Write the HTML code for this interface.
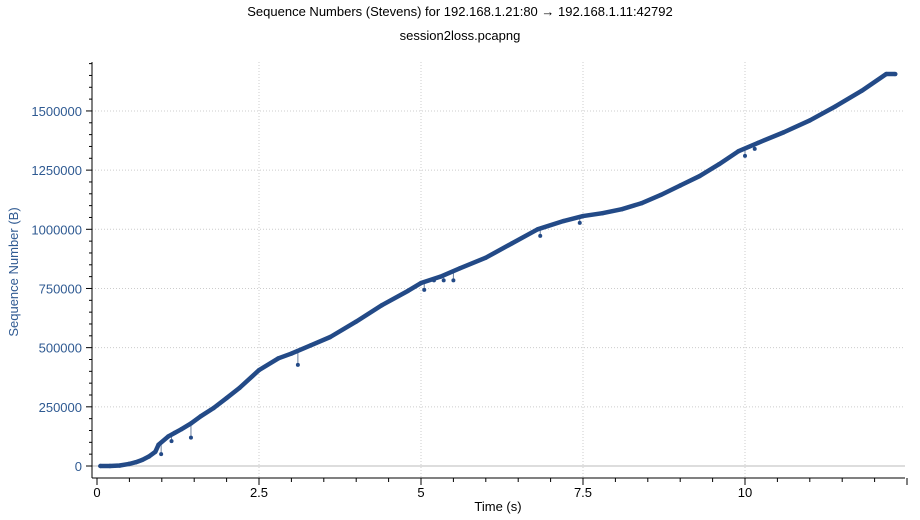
<!DOCTYPE html>
<html><head><meta charset="utf-8"><style>
body{margin:0;background:#fff;font-family:"Liberation Sans",sans-serif}
svg{display:block}
</style></head><body>
<svg id="c" width="920" height="520">
<text x="460" y="16" text-anchor="middle" font-size="13">Sequence Numbers (Stevens) for 192.168.1.21:80 → 192.168.1.11:42792</text>
<text x="460" y="40" text-anchor="middle" font-size="13">session2loss.pcapng</text>
<text transform="translate(18,272) rotate(-90)" text-anchor="middle" font-size="13" fill="#2f5a92">Sequence Number (B)</text>
<text x="498" y="511" text-anchor="middle" font-size="13">Time (s)</text>
<g id="g"></g>
</svg>
<script>
const times=[0.05,0.2,0.35,0.5,0.6,0.7,0.8,0.9,0.95,1.1,1.2,1.3,1.45,1.6,1.8,2.0,2.2,2.5,2.8,3.0,3.3,3.6,4.0,4.4,4.8,5.0,5.3,5.6,6.0,6.4,6.8,7.2,7.5,7.8,8.1,8.4,8.7,9.0,9.3,9.6,9.9,10.2,10.6,11.0,11.4,11.8,12.18,12.32];
const seqs=[0,0,2000,9000,16000,26000,40000,60000,90000,125000,140000,155000,180000,210000,245000,287000,330000,405000,455000,475000,510000,545000,610000,680000,740000,773000,800000,835000,880000,940000,1000000,1035000,1056000,1068000,1085000,1110000,1145000,1185000,1225000,1275000,1330000,1365000,1410000,1460000,1520000,1585000,1656000,1656000];
const outT=[0.99,1.15,1.45,3.1,5.05,5.2,5.35,5.5,6.84,7.45,10.0,10.15];
const outS=[50000,105000,120000,427000,744000,784000,784000,784000,972000,1027000,1310000,1340000];
const xTicks=[0,2.5,5,7.5,10];
const yTicks=[0,250000,500000,750000,1000000,1250000,1500000];
const X=t=>97+t*64.8, Y=s=>466-s*0.0002367;
const g=document.getElementById('g'),NS='http://www.w3.org/2000/svg';
function mk(tag,a,p){const e=document.createElementNS(NS,tag);for(const k in a)e.setAttribute(k,a[k]);(p||g).appendChild(e);return e;}
// grid
xTicks.forEach(t=>{if(t>0){const l=mk('line',{x1:X(t),x2:X(t),y1:62,y2:478,stroke:'#ccc','stroke-dasharray':'1,2'});

}});
yTicks.forEach(s=>{const l=mk('line',{x1:92,x2:905,y1:Y(s),y2:Y(s),stroke:s===0?'#bbb':'#ccc','stroke-dasharray':s===0?'':'1,2'});

});
// axes
mk('line',{x1:92,x2:92,y1:62,y2:478,stroke:'#000'});
mk('line',{x1:92,x2:905,y1:478,y2:478,stroke:'#000'});
for(let t=0;t<=12.5;t+=0.5){mk('line',{x1:X(t),x2:X(t),y1:478,y2:t%2.5===0?485:482,stroke:'#000'});}
for(let s=0;s<=1700000;s+=50000){mk('line',{x1:92,x2:s%250000===0?86:89,y1:Y(s),y2:Y(s),stroke:'#000'});}
xTicks.forEach(t=>{const e=mk('text',{x:X(t),y:497,'text-anchor':'middle','font-size':13});e.textContent=t;

});
yTicks.forEach(s=>{const e=mk('text',{x:82,y:Y(s)+5,'text-anchor':'end','font-size':13,fill:'#2f5a92'});e.textContent=s;

});
// outlier drop lines
outT.forEach((t,i)=>{let j=0;while(j<times.length-1&&times[j+1]<t)j++;
const f=(t-times[j])/(times[j+1]-times[j]);const s=seqs[j]+f*(seqs[j+1]-seqs[j]);
mk('line',{x1:X(t),x2:X(t),y1:Y(s),y2:Y(outS[i]),stroke:'#6b7f9e','stroke-width':1});
const c=mk('circle',{cx:X(t),cy:Y(outS[i]),r:2,fill:'#234a87'});

});
// series
const line=mk('polyline',{points:times.map((t,i)=>X(t)+','+Y(seqs[i])).join(' '),fill:'none',stroke:'#234a87','stroke-width':4.5,'stroke-linejoin':'round'});


times.forEach((t,i)=>{const c=mk('circle',{cx:X(t),cy:Y(seqs[i]),r:2.2,fill:'#234a87'});

});
</script>
</body></html>
